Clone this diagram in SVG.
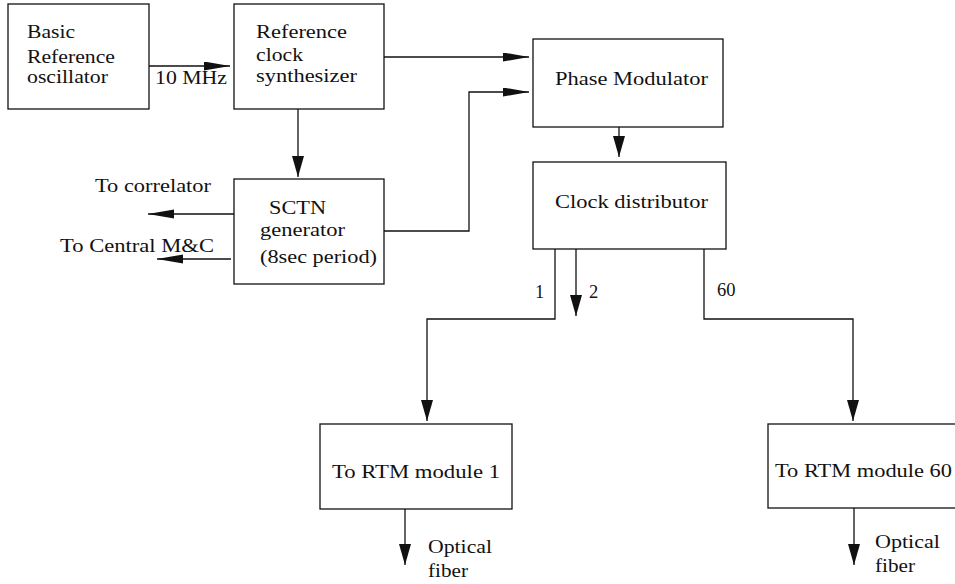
<svg xmlns="http://www.w3.org/2000/svg" width="955" height="584" viewBox="0 0 955 584">
  <style>
    .box { fill: #fff; stroke: #111; stroke-width: 1.3; }
    .wire { fill: none; stroke: #111; stroke-width: 1.3; }
    .wire-h { marker-end: url(#head-h); }
    .wire-v { marker-end: url(#head-v); }
    text { font-family: "Liberation Serif", "Times New Roman", serif; font-size: 18.5px; fill: #111; }
  </style>
  <defs>
    <!-- long, narrow head for horizontal runs -->
    <marker id="head-h" markerUnits="userSpaceOnUse" markerWidth="26" markerHeight="10" refX="26" refY="4.5" orient="auto">
      <path d="M0,0 L26,4.5 L0,9 z" fill="#111"/>
    </marker>
    <!-- shorter, wider head for vertical runs -->
    <marker id="head-v" markerUnits="userSpaceOnUse" markerWidth="21" markerHeight="12" refX="21" refY="6" orient="auto">
      <path d="M0,0 L21,6 L0,12 z" fill="#111"/>
    </marker>
  </defs>
  <rect width="955" height="584" fill="#fff"/>

  <g id="connectors">
    <path class="wire wire-h" d="M149,66 H230"/>
    <path class="wire wire-h" d="M384,57 H529"/>
    <path class="wire wire-h" d="M384,231 H469 V92 H529"/>
    <path class="wire wire-v" d="M298,109 V177"/>
    <path class="wire wire-v" d="M619,127 V157"/>
    <path class="wire wire-h" d="M234,214 H148"/>
    <path class="wire wire-h" d="M231,259 H157"/>
    <path class="wire wire-v" d="M555,249 V319 H427 V421"/>
    <path class="wire wire-v" d="M576,249 V316"/>
    <path class="wire wire-v" d="M704,249 V319 H853 V421"/>
    <path class="wire wire-v" d="M405,509 V565"/>
    <path class="wire wire-v" d="M854,508 V565"/>
    <text x="155" y="84" textLength="72" lengthAdjust="spacingAndGlyphs">10 MHz</text>
    <text x="95" y="192" textLength="116" lengthAdjust="spacingAndGlyphs">To correlator</text>
    <text x="60" y="252" textLength="154" lengthAdjust="spacingAndGlyphs">To Central M&amp;C</text>
    <text x="535" y="298">1</text>
    <text x="589" y="298">2</text>
    <text x="717" y="296">60</text>
    <text x="428" y="553" textLength="64" lengthAdjust="spacingAndGlyphs">Optical</text>
    <text x="428" y="577" textLength="40" lengthAdjust="spacingAndGlyphs">fiber</text>
    <text x="875" y="548" textLength="65" lengthAdjust="spacingAndGlyphs">Optical</text>
    <text x="875" y="572" textLength="40" lengthAdjust="spacingAndGlyphs">fiber</text>
  </g>

  <g id="basic-reference-oscillator">
    <rect class="box" x="8" y="4" width="141" height="105"/>
    <text x="27" y="38" textLength="48" lengthAdjust="spacingAndGlyphs">Basic</text>
    <text x="27" y="63" textLength="88" lengthAdjust="spacingAndGlyphs">Reference</text>
    <text x="27" y="83" textLength="81" lengthAdjust="spacingAndGlyphs">oscillator</text>
  </g>

  <g id="reference-clock-synthesizer">
    <rect class="box" x="234" y="4" width="150" height="105"/>
    <text x="256" y="38" textLength="91" lengthAdjust="spacingAndGlyphs">Reference</text>
    <text x="256" y="61" textLength="47" lengthAdjust="spacingAndGlyphs">clock</text>
    <text x="256" y="82" textLength="101" lengthAdjust="spacingAndGlyphs">synthesizer</text>
  </g>

  <g id="phase-modulator">
    <rect class="box" x="533" y="39" width="190" height="88"/>
    <text x="555" y="85" textLength="153" lengthAdjust="spacingAndGlyphs">Phase Modulator</text>
  </g>

  <g id="sctn-generator">
    <rect class="box" x="234" y="179" width="150" height="105"/>
    <text x="269" y="214" textLength="57" lengthAdjust="spacingAndGlyphs">SCTN</text>
    <text x="260" y="236" textLength="85" lengthAdjust="spacingAndGlyphs">generator</text>
    <text x="260" y="263" textLength="117" lengthAdjust="spacingAndGlyphs">(8sec period)</text>
  </g>

  <g id="clock-distributor">
    <rect class="box" x="533" y="162" width="193" height="87"/>
    <text x="555" y="208" textLength="153" lengthAdjust="spacingAndGlyphs">Clock distributor</text>
  </g>

  <g id="rtm-module-1">
    <rect class="box" x="320" y="424" width="192" height="85"/>
    <text x="332" y="478" textLength="168" lengthAdjust="spacingAndGlyphs">To RTM module 1</text>
  </g>

  <g id="rtm-module-60">
    <rect class="box" x="768" y="424" width="200" height="84"/>
    <text x="775" y="477" textLength="177" lengthAdjust="spacingAndGlyphs">To RTM module 60</text>
  </g>
</svg>
